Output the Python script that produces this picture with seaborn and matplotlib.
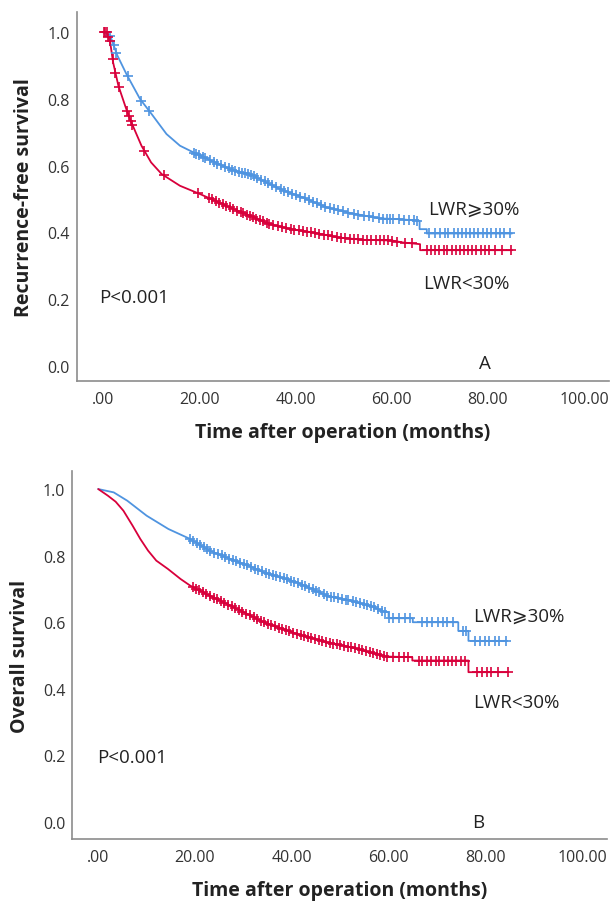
import matplotlib

matplotlib.use("Agg")
import matplotlib.pyplot as plt
import numpy as np
import pandas as pd
import seaborn as sns

# Kaplan-Meier curves (months, survival probability)
RFS_HIGH_T = [0, 1.5, 3.0, 4.9, 7.7, 10.1, 13.2, 16.0, 18.8, 22.5, 26.4, 31.2, 36.8,
              41.5, 46.5, 51.5, 57.6, 61.5, 65.8, 65.8, 67.3, 67.3, 85.0]
RFS_HIGH_S = [1.0, 0.99, 0.93, 0.874, 0.80, 0.755, 0.695, 0.66, 0.64, 0.615, 0.59, 0.57, 0.53,
              0.505, 0.475, 0.458, 0.442, 0.44, 0.435, 0.41, 0.41, 0.397, 0.397]
RFS_LOW_T = [0, 0.8, 1.5, 2.1, 3.2, 4.6, 5.6, 8.0, 10.0, 12.2, 16.0, 20.2, 26.4, 30.5, 34.7,
             39.0, 43.7, 49.0, 54.0, 60.0, 62.4, 65.9, 65.9, 85.0]
RFS_LOW_S = [1.0, 1.0, 0.97, 0.91, 0.84, 0.78, 0.74, 0.66, 0.61, 0.575, 0.54, 0.515, 0.475, 0.45,
             0.425, 0.41, 0.40, 0.385, 0.378, 0.376, 0.37, 0.365, 0.347, 0.347]

OS_HIGH_T = [0, 3.2, 6.0, 10.0, 14.5, 19.0, 23.0, 27.3, 31.0, 34.2, 41.0, 47.2, 52.0, 56.5,
             59.0, 60.0, 60.0, 65.0, 65.0, 74.4, 74.4, 76.5, 76.5, 84.5]
OS_HIGH_S = [1.0, 0.99, 0.965, 0.92, 0.88, 0.85, 0.815, 0.79, 0.77, 0.75, 0.72, 0.68, 0.665, 0.648,
             0.632, 0.63, 0.612, 0.612, 0.60, 0.60, 0.574, 0.574, 0.544, 0.544]
OS_LOW_T = [0, 2.0, 3.6, 5.2, 7.1, 8.7, 10.3, 12.0, 14.4, 17.0, 19.0, 23.0, 27.3, 34.2, 41.0,
            47.2, 52.2, 56.0, 59.5, 64.9, 64.9, 76.5, 76.5, 84.5]
OS_LOW_S = [1.0, 0.98, 0.962, 0.935, 0.89, 0.85, 0.815, 0.785, 0.76, 0.73, 0.71, 0.68, 0.65,
            0.60, 0.565, 0.54, 0.525, 0.51, 0.497, 0.495, 0.485, 0.485, 0.45, 0.45]

# censoring times (months)
RFS_HIGH_CENS = [1.5, 2.2, 2.8, 5.1, 8.0, 9.6, 18.9, 19.4, 20.0, 20.7, 21.3, 22.2, 23.0, 23.8,
                 24.5, 25.3, 26.1, 26.8, 27.5, 28.2, 28.9, 29.5, 30.1, 30.8, 31.4, 32.1, 32.9,
                 33.6, 34.4, 35.2, 36.0, 36.9, 37.7, 38.5, 39.3, 40.2, 41.0, 41.9, 42.8, 43.6,
                 44.5, 45.3, 46.2, 47.1, 48.0, 48.8, 49.9, 51.0, 52.2, 53.1, 54.3, 55.2, 56.1,
                 57.3, 58.2, 59.0, 59.6, 60.3, 61.5, 62.6, 63.5, 64.6, 65.3, 67.8, 69.0, 70.1,
                 71.0, 71.8, 72.9, 73.7, 74.6, 75.4, 76.3, 77.2, 78.0, 78.9, 79.8, 80.7, 81.6,
                 82.5, 83.4, 84.6]
RFS_LOW_CENS = [0.2, 0.5, 0.8, 1.1, 1.4, 2.0, 2.6, 3.3, 5.0, 5.4, 5.8, 6.1, 8.6, 12.6, 19.8,
                22.0, 22.6, 23.4, 24.1, 24.9, 25.6, 26.4, 27.1, 27.9, 28.6, 29.2, 29.9, 30.5,
                31.2, 31.9, 32.6, 33.3, 34.0, 34.6, 35.4, 36.3, 37.2, 38.1, 39.0, 39.8, 40.7,
                41.5, 42.4, 43.2, 44.1, 45.0, 45.9, 46.8, 47.7, 48.6, 49.5, 50.4, 51.3, 52.2,
                53.1, 54.0, 54.9, 55.8, 56.7, 57.6, 58.4, 59.2, 60.0, 61.2, 62.8, 64.3, 67.4,
                68.2, 69.1, 69.9, 70.8, 71.6, 72.5, 73.3, 74.2, 75.0, 75.9, 76.7, 77.6, 78.5,
                79.3, 80.2, 81.5, 83.0, 84.8]
OS_HIGH_CENS = [19.0, 19.6, 20.4, 21.0, 21.8, 22.5, 23.1, 24.0, 24.7, 25.5, 26.2, 27.1, 27.8,
                28.4, 29.3, 30.1, 30.7, 31.5, 32.4, 33.0, 33.8, 34.6, 35.2, 36.1, 36.8, 37.5,
                38.4, 39.0, 39.9, 40.5, 41.2, 42.1, 42.8, 43.6, 44.3, 45.1, 45.7, 46.6, 47.3,
                48.1, 48.7, 49.6, 50.3, 51.1, 51.7, 52.6, 53.3, 54.0, 54.9, 55.5, 56.4, 57.0,
                57.8, 58.6, 59.2, 60.1, 61.0, 62.2, 63.4, 64.5, 66.8, 67.9, 69.0, 70.2, 71.3,
                72.1, 73.4, 75.3, 76.0, 77.9, 78.8, 79.9, 80.8, 81.9, 82.9, 84.3]
OS_LOW_CENS = [19.5, 20.2, 20.9, 21.7, 22.3, 23.1, 23.9, 24.6, 25.4, 26.0, 26.9, 27.6, 28.3,
               29.1, 29.8, 30.6, 31.3, 32.1, 32.8, 33.6, 34.3, 35.0, 35.8, 36.5, 37.3, 38.0,
               38.8, 39.5, 40.3, 41.1, 41.8, 42.6, 43.3, 44.0, 44.8, 45.6, 46.3, 47.1, 47.8,
               48.5, 49.3, 50.0, 50.8, 51.6, 52.3, 53.1, 53.8, 54.5, 55.3, 56.1, 56.8, 57.6,
               58.3, 59.0, 59.7, 61.0, 62.1, 63.2, 64.0, 66.2, 67.0, 67.9, 68.8, 69.7, 70.5,
               71.4, 72.3, 73.1, 74.0, 74.9, 75.8, 78.2, 79.3, 80.4, 81.1, 82.7, 84.6]

X_TICKS = [0, 20, 40, 60, 80, 100]
X_TICK_LABELS = [".00", "20.00", "40.00", "60.00", "80.00", "100.00"]
Y_TICKS = [0.0, 0.2, 0.4, 0.6, 0.8, 1.0]
Y_TICK_LABELS = ["0.0", "0.2", "0.4", "0.6", "0.8", "1.0"]

BLUE = "#4f94e0"
RED = "#d8003b"
TEXT = "#222222"

sns.set_theme(style="white")
plt.rcParams["font.family"] = ["Open Sans", "DejaVu Sans"]


def draw_panel(ax, curves, ylabel, high_xy, low_xy, p_xy, letter_xy, letter, ylim, ypad):
    for t, s, cens, color in curves:
        curve = pd.DataFrame({"t": t, "s": s})
        sns.lineplot(data=curve, x="t", y="s", ax=ax, color=color, linewidth=1.3,
                     sort=False, estimator=None)
        # censor marks sit on the curve
        marks = pd.DataFrame({"t": cens, "s": np.interp(cens, t, s)})
        sns.scatterplot(data=marks, x="t", y="s", ax=ax, color=color, marker="+",
                        s=50, linewidth=1.2, zorder=3)

    ax.set_xlim(-5.4, 105.2)
    ax.set_ylim(*ylim)
    ax.set_xticks(X_TICKS)
    ax.set_xticklabels(X_TICK_LABELS)
    ax.set_yticks(Y_TICKS)
    ax.set_yticklabels(Y_TICK_LABELS)
    ax.tick_params(length=0, labelsize=11.5, labelcolor="#333333")
    ax.tick_params(axis="x", pad=7)
    ax.tick_params(axis="y", pad=5)
    for side in ("top", "right"):
        ax.spines[side].set_visible(False)
    for side in ("left", "bottom"):
        ax.spines[side].set_color("#8c8c8c")
        ax.spines[side].set_linewidth(1.2)

    ax.set_xlabel("Time after operation (months)", fontsize=14, fontweight="bold",
                  color=TEXT, labelpad=11)
    ax.set_ylabel(ylabel, fontsize=14, fontweight="bold", color=TEXT, labelpad=ypad)

    ax.text(*high_xy, "LWR\u2a7e30%", fontsize=13.5, color=TEXT, va="center")
    ax.text(*low_xy, "LWR<30%", fontsize=13.5, color=TEXT, va="center")
    ax.text(*p_xy, "P<0.001", fontsize=13.5, color=TEXT, va="center")
    ax.text(*letter_xy, letter, fontsize=13.5, color=TEXT, va="center", ha="center")


fig = plt.figure(figsize=(6.11, 9.04), dpi=100)
ax_top = fig.add_axes([0.126, 0.5774, 0.871, 0.408])
ax_bot = fig.add_axes([0.118, 0.0708, 0.876, 0.407])

draw_panel(
    ax_top,
    [(RFS_HIGH_T, RFS_HIGH_S, RFS_HIGH_CENS, BLUE), (RFS_LOW_T, RFS_LOW_S, RFS_LOW_CENS, RED)],
    "Recurrence-free survival",
    high_xy=(67.6, 0.47), low_xy=(66.5, 0.25), p_xy=(-0.8, 0.207),
    letter_xy=(79.3, 0.01), letter="A", ylim=(-0.045, 1.06), ypad=10,
)
draw_panel(
    ax_bot,
    [(OS_HIGH_T, OS_HIGH_S, OS_HIGH_CENS, BLUE), (OS_LOW_T, OS_LOW_S, OS_LOW_CENS, RED)],
    "Overall survival",
    high_xy=(77.5, 0.62), low_xy=(77.5, 0.36), p_xy=(-0.2, 0.195),
    letter_xy=(78.5, 0.0), letter="B", ylim=(-0.051, 1.054), ypad=9,
)

fig.savefig("out.png", dpi=100)
